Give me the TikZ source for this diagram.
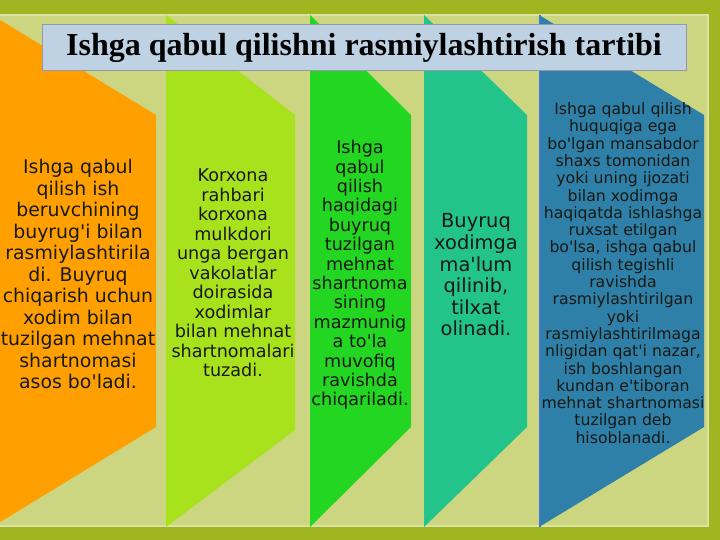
\documentclass[tikz,border=0pt]{standalone}
\usepackage{fontspec}
\newfontfamily\titlefont{Liberation Serif}
\newfontfamily\bodyfont{DejaVu Sans}
\definecolor{frameC}{RGB}{160,182,32}
\definecolor{panelC}{RGB}{204,214,128}
\definecolor{orangeC}{RGB}{255,160,0}
\definecolor{lgreenC}{RGB}{168,226,28}
\definecolor{greenC}{RGB}{34,214,34}
\definecolor{tealC}{RGB}{34,196,140}
\definecolor{blueC}{RGB}{46,128,168}
\definecolor{blueEdge}{RGB}{60,120,210}
\definecolor{titleFill}{RGB}{190,210,228}
\definecolor{titleLine}{RGB}{150,150,172}
\definecolor{txtC}{RGB}{25,25,20}
\tikzset{
  boxtext/.style={align=center, text=txtC, inner sep=0pt},
}
\begin{document}
\begin{tikzpicture}[x=1pt,y=-1pt]
\useasboundingbox (0,0) rectangle (720,540);
% frame and panel
\fill[frameC] (0,0) rectangle (720,540);
\fill[panelC] (0,14) rectangle (709,527);
\draw[panelC!70!white, line width=1.5pt] (0,15) -- (708,15) -- (708,526) -- (0,526);
% shapes: top-left (L,15), diagonal to (R,115), down to (R,427), diagonal to (L,527)
\fill[orangeC] (-8,15) -- (156,115) -- (156,427) -- (-8,527) -- cycle;
\fill[lgreenC] (166,15) -- (295,115) -- (295,430) -- (166,527) -- cycle;
\fill[greenC] (310,15) -- (411,115) -- (411,427) -- (310,527) -- cycle;
\fill[tealC] (424,15) -- (527,115) -- (527,427) -- (424,527) -- cycle;
\fill[blueC] (539,15) -- (704,115) -- (704,427) -- (539,527) -- cycle;
\draw[blueEdge, line width=1.5pt] (540,15) -- (540,527);
% title
\node[draw=titleLine, line width=1pt, fill=titleFill, minimum width=644pt, minimum height=46pt, inner sep=0pt,
      font=\titlefont\bfseries\fontsize{32}{36}\selectfont] (title) at (364,48) {Ishga qabul qilishni rasmiylashtirish tartibi};
% texts
\node[boxtext, font=\bodyfont\fontsize{18.9}{21.5}\selectfont] (t1) at (78,274) {Ishga qabul\\qilish ish\\beruvchining\\buyrug'i bilan\\rasmiylashtirila\\di. Buyruq\\chiqarish uchun\\xodim bilan\\tuzilgan mehnat\\shartnomasi\\asos bo'ladi.};
\node[boxtext, font=\bodyfont\fontsize{17.6}{19.5}\selectfont] (t2) at (233,273) {Korxona\\rahbari\\korxona\\mulkdori\\unga bergan\\vakolatlar\\doirasida\\xodimlar\\bilan mehnat\\shartnomalari\\tuzadi.};
\node[boxtext, font=\bodyfont\fontsize{17.6}{19.4}\selectfont] (t3) at (360,275) {Ishga\\qabul\\qilish\\haqidagi\\buyruq\\tuzilgan\\mehnat\\shartnoma\\sining\\mazmunig\\a to'la\\muvofiq\\ravishda\\chiqariladi.};
\node[boxtext, font=\bodyfont\fontsize{19.4}{21.6}\selectfont] (t4) at (476,275) {Buyruq\\xodimga\\ma'lum\\qilinib,\\tilxat\\olinadi.};
\node[boxtext, font=\bodyfont\fontsize{15.7}{17.3}\selectfont] (t5) at (623,273) {Ishga qabul qilish\\huquqiga ega\\bo'lgan mansabdor\\shaxs tomonidan\\yoki uning ijozati\\bilan xodimga\\haqiqatda ishlashga\\ruxsat etilgan\\bo'lsa, ishga qabul\\qilish tegishli\\ravishda\\rasmiylashtirilgan\\yoki\\rasmiylashtirilmaga\\nligidan qat'i nazar,\\ish boshlangan\\kundan e'tiboran\\mehnat shartnomasi\\tuzilgan deb\\hisoblanadi.};
\end{tikzpicture}
\end{document}
